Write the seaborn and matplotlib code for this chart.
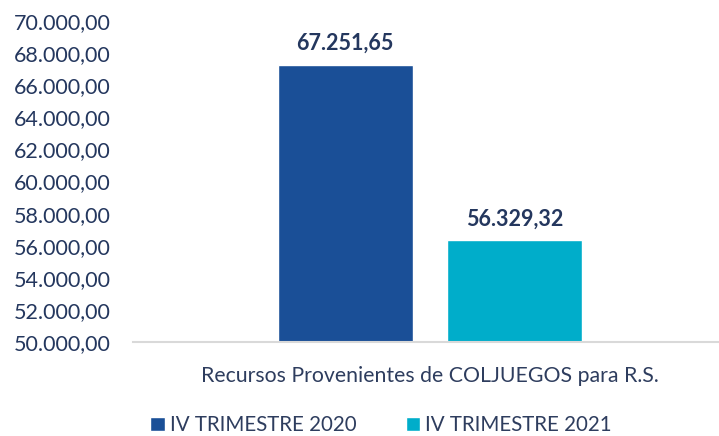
import matplotlib
matplotlib.use("Agg")
import matplotlib.pyplot as plt
import seaborn as sns
import pandas as pd
from matplotlib.ticker import FuncFormatter

categories = ["Recursos Provenientes de COLJUEGOS para R.S."]
series = ["IV TRIMESTRE 2020", "IV TRIMESTRE 2021"]
values = [67251.65, 56329.32]
colors = ["#1A4F97", "#00ADCA"]

df = pd.DataFrame({"cat": categories * 2, "serie": series, "valor": values})

sns.set_theme(style="white")
plt.rcParams["font.family"] = ["Lato", "DejaVu Sans"]

fig = plt.figure(figsize=(7.19, 4.36), dpi=100)
ax = fig.add_axes([133 / 719, (436 - 342) / 436, 586 / 719, 321 / 436])

sns.barplot(data=df, x="cat", y="valor", hue="serie", palette=colors,
            width=0.85, gap=0.2, saturation=1, ax=ax, legend=True)

def fmt(v, pos=None):
    s = f"{v:,.2f}"
    return s.replace(",", "X").replace(".", ",").replace("X", ".")

ax.set_ylim(50000, 70000)
ax.set_yticks(range(50000, 70001, 2000))
ax.yaxis.set_major_formatter(FuncFormatter(fmt))
ax.set_xlim(-0.745, 0.725)
ax.tick_params(axis="y", labelsize=15.5, labelcolor="#24375E", length=0, pad=16)
ax.tick_params(axis="x", labelsize=15.3, labelcolor="#2E3D5E", length=0, pad=17)
ax.set_xlabel("")
ax.set_ylabel("")
for side in ["top", "right", "left"]:
    ax.spines[side].set_visible(False)
ax.spines["bottom"].set_color("#D9D9D9")
ax.spines["bottom"].set_linewidth(1.5)

for cont in ax.containers:
    labels = [fmt(v) for v in cont.datavalues]
    ax.bar_label(cont, labels=labels, padding=8, fontsize=15.5,
                 fontweight="bold", color="#24375E")

leg = ax.legend(loc="center", bbox_to_anchor=(381 / 719, 11 / 436),
                bbox_transform=fig.transFigure, ncol=2,
                frameon=False, fontsize=14.8, handlelength=0.7, handleheight=0.7,
                handletextpad=0.25, columnspacing=2.4, borderaxespad=0, borderpad=0)
for t in leg.get_texts():
    t.set_color("#2E3D5E")

fig.savefig("out.png", dpi=100)
